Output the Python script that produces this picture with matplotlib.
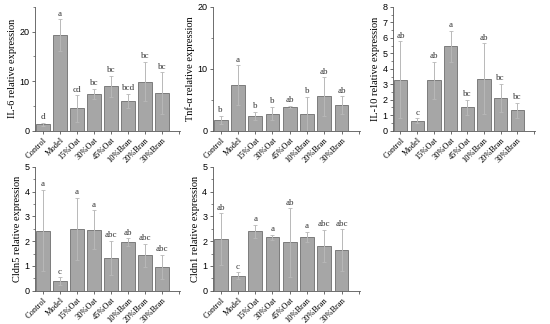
import numpy as np
import matplotlib.pyplot as plt
from matplotlib.ticker import MultipleLocator

groups = ["Control", "Model", "15%Oat", "30%Oat", "45%Oat", "10%Bran", "20%Bran", "30%Bran"]

il6 = [1.35, 19.3, 4.5, 7.45, 9.0, 6.0, 9.9, 7.65]
il6_err = [0.3, 3.2, 2.7, 1.0, 2.1, 1.5, 4.0, 4.2]
il6_sig = ["d", "a", "cd", "bc", "bc", "bcd", "bc", "bc"]

tnf = [1.73, 7.4, 2.4, 2.75, 3.85, 2.75, 5.55, 4.15]
tnf_err = [0.7, 3.2, 0.7, 1.1, 0.15, 2.75, 3.1, 1.45]
tnf_sig = ["b", "a", "b", "b", "ab", "b", "ab", "ab"]

il10 = [3.29, 0.65, 3.26, 5.45, 1.51, 3.35, 2.14, 1.32]
il10_err = [2.5, 0.15, 1.2, 1.0, 0.5, 2.3, 0.9, 0.5]
il10_sig = ["ab", "c", "ab", "a", "bc", "ab", "bc", "bc"]

cldn5 = [2.43, 0.38, 2.5, 2.46, 1.32, 1.97, 1.43, 0.96]
cldn5_err = [1.65, 0.16, 1.25, 0.78, 0.69, 0.15, 0.46, 0.49]
cldn5_sig = ["a", "c", "a", "a", "abc", "ab", "abc", "abc"]

cldn1 = [2.08, 0.61, 2.4, 2.16, 1.95, 2.18, 1.81, 1.64]
cldn1_err = [1.05, 0.13, 0.26, 0.1, 1.39, 0.21, 0.65, 0.85]
cldn1_sig = ["ab", "c", "a", "a", "ab", "a", "abc", "abc"]

serif = "Liberation Serif"
sans = "Liberation Sans"

fig = plt.figure(figsize=(5.5, 3.24), dpi=100)

panels = [
    # values, errors, letters, ylabel, ymax, major, minor, rect
    (il6, il6_err, il6_sig, "IL-6 relative expression", 25, 10, 5, [0.0636, 0.5966, 0.264, 0.382]),
    (tnf, tnf_err, tnf_sig, "Tnf-α relative expression", 20, 10, 5, [0.387, 0.5966, 0.267, 0.382]),
    (il10, il10_err, il10_sig, "IL-10 relative expression", 8, 1, 0.5, [0.7145, 0.5966, 0.258, 0.382]),
    (cldn5, cldn5_err, cldn5_sig, "Cldn5 relative expression", 5, 1, 0.5, [0.0636, 0.1028, 0.264, 0.382]),
    (cldn1, cldn1_err, cldn1_sig, "Cldn1 relative expression", 5, 1, 0.5, [0.387, 0.1028, 0.267, 0.382]),
]

x = np.arange(len(groups))
for vals, errs, sig, ylab, ymax, major, minor, rect in panels:
    ax = fig.add_axes(rect)
    ax.bar(x, vals, width=0.8, color="#a6a6a6", edgecolor="#6e6e6e", linewidth=0.6)
    ax.errorbar(x, vals, yerr=errs, fmt="none", ecolor="#b8b8b8", elinewidth=0.7,
                capsize=1.5, capthick=0.6)
    for xi, v, e, s in zip(x, vals, errs, sig):
        ax.text(xi, v + e + ymax * 0.012, s, ha="center", va="bottom",
                fontsize=6.5, family=serif, color="#333333")
    ax.set_xlim(-0.45, 8.05)
    ax.set_ylim(0, ymax)
    ax.set_xticks(list(x) + [8])
    ax.set_xticklabels(groups + [""], rotation=45, ha="right", rotation_mode="anchor",
                       fontsize=6, family=serif)
    ax.yaxis.set_major_locator(MultipleLocator(major))
    ax.yaxis.set_minor_locator(MultipleLocator(minor))
    for lab in ax.get_yticklabels():
        lab.set_family(sans)
        lab.set_fontsize(6.5)
    ax.tick_params(axis="both", which="major", length=2.5, width=0.6, color="#555555", pad=1.5)
    ax.tick_params(axis="y", which="minor", length=1.5, width=0.5, color="#555555")
    ax.set_ylabel(ylab, fontsize=7.5, family=serif, labelpad=2)
    ax.spines["top"].set_visible(False)
    ax.spines["right"].set_visible(False)
    ax.spines["left"].set_linewidth(0.6)
    ax.spines["bottom"].set_linewidth(0.6)
    ax.spines["left"].set_color("#555555")
    ax.spines["bottom"].set_color("#555555")

fig.savefig("out.png", dpi=100)
